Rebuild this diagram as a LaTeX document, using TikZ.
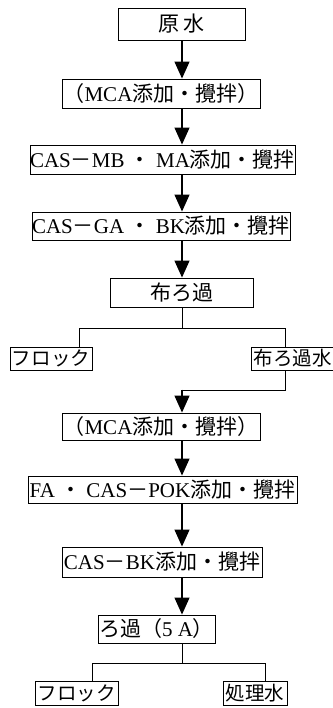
\documentclass[tikz,border=0pt]{standalone}
\usepackage{fontspec}
\setmainfont{Liberation Serif}
\newfontfamily\jp{Noto Sans CJK JP}
\usetikzlibrary{arrows.meta,calc}
\newcommand{\J}[1]{{\jp #1}}
\begin{document}
\begin{tikzpicture}[x=1pt,y=-1pt,
  box/.style={draw,line width=0.9pt,inner sep=0pt,minimum height=29pt,font=\fontsize{21}{21}\selectfont},
  smallbox/.style={box,minimum height=24pt,font=\fontsize{19.5}{19.5}\selectfont},
  arr/.style={line width=1.3pt,-{Triangle[width=15pt,length=17pt]}},
  ln/.style={line width=1pt}]
\fill[white] (0,0) rectangle (332,708);
\useasboundingbox (0,0) rectangle (332,708);
\coordinate (axis) at (182,0);
\node[box,minimum width=127pt,minimum height=32pt] (genn) at (181.5,24) {\J{原\ 水}};
\node[box,minimum width=198pt] (mca1) at (161,93.5) {\J{（}MCA\J{添加・攪拌）}};
\node[box,minimum width=265pt] (casmb) at (162.5,159.5) {CAS\J{－}MB \J{・} MA\J{添加・攪拌}};
\node[box,minimum width=258pt,minimum height=28pt] (casga) at (161,226) {CAS\J{－}GA \J{・} BK\J{添加・攪拌}};
\node[box,minimum width=143pt] (nuno) at (181.5,292.5) {\J{布ろ過}};
\node[smallbox,minimum width=82pt,minimum height=23pt] (floc1) at (51,358.5) {\J{フロック}};
\node[smallbox,minimum width=83pt,minimum height=23pt] (nunow) at (292.5,358.5) {\J{布ろ過水}};
\node[box,minimum width=198pt,minimum height=27pt] (mca2) at (161,426.5) {\J{（}MCA\J{添加・攪拌）}};
\node[box,minimum width=269pt,minimum height=27pt] (fa) at (162.5,489.5) {FA \J{・} CAS\J{－}POK\J{添加・攪拌}};
\node[box,minimum width=200pt,minimum height=30pt] (casbk) at (162,562) {CAS\J{－}BK\J{添加・攪拌}};
\node[box,minimum width=117pt,minimum height=28pt] (roka) at (156.5,629) {\J{ろ過（}5 A\J{）}};
\node[smallbox,minimum width=83pt] (floc2) at (76.5,693) {\J{フロック}};
\node[smallbox,minimum width=64pt] (shori) at (255,693) {\J{処理水}};
% main arrows
\draw[arr] (axis |- genn.south) -- (axis |- mca1.north);
\draw[arr] (axis |- mca1.south) -- (axis |- casmb.north);
\draw[arr] (axis |- casmb.south) -- (axis |- casga.north);
\draw[arr] (axis |- casga.south) -- (axis |- nuno.north);
% first split
\coordinate (s1) at (182,328);
\draw[ln] (axis |- nuno.south) -- (s1);
\draw[ln] (79,0 |- floc1.north) -- (79,328) -- (285,328) -- (285,0 |- nunow.north);
% return
\draw[ln] (285,0 |- nunow.south) -- (285,390) -- (182,390);
\draw[arr] (182,389.5) -- (axis |- mca2.north);
\draw[arr] (axis |- mca2.south) -- (axis |- fa.north);
\draw[arr] (axis |- fa.south) -- (axis |- casbk.north);
\draw[arr] (axis |- casbk.south) -- (axis |- roka.north);
% second split
\draw[ln] (axis |- roka.south) -- (182,663);
\draw[ln] (92,0 |- floc2.north) -- (92,663) -- (265,663) -- (265,0 |- shori.north);
\end{tikzpicture}
\end{document}
